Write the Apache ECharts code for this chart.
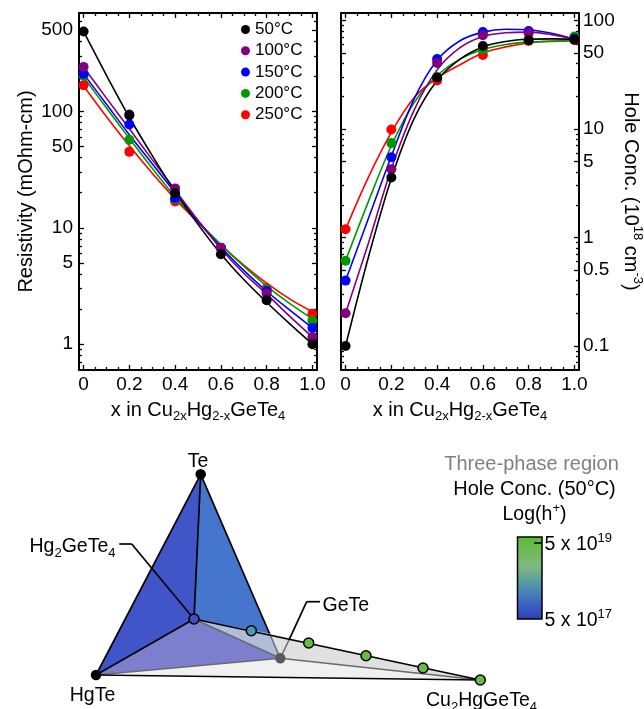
<!DOCTYPE html>
<html><head><meta charset="utf-8">
<style>html,body{margin:0;padding:0;background:#fff}#c{width:644px;height:709px}</style>
<script src="https://cdn.jsdelivr.net/npm/echarts@6/dist/echarts.min.js"></script>
</head><body><div id="c"></div>
<script>
// ---- measured compositions
const xPoints = [0, 0.2, 0.4, 0.6, 0.8, 1.0];
const xCurve = [0, 0.1, 0.2, 0.3, 0.4, 0.5, 0.6, 0.7, 0.8, 0.9, 1.0];
const temperatures = ['50°C', '100°C', '150°C', '200°C', '250°C'];
// ---- resistivity markers (mOhm-cm)
const rho50 = [486, 92.4, 19.8, 5.92, 2.39, 1.0];
const rho100 = [241, 94, 21.8, 6.75, 2.73, 1.15];
const rho150 = [210, 77, 18, 6.7, 2.86, 1.38];
const rho200 = [202, 57, 17.6, 6.7, 2.95, 1.6];
const rho250 = [168, 44.9, 16.8, 6.7, 3.03, 1.83];
// ---- resistivity fit curves
const rhoFit50 = [486, 204, 89, 41.7, 20.4, 10.7, 5.96, 3.59, 2.29, 1.5, 1.0];
const rhoFit100 = [241, 130, 70.8, 38.5, 21.1, 11.6, 6.6, 4.07, 2.69, 1.74, 1.15];
const rhoFit150 = [210, 115, 63, 35.5, 20, 11.35, 6.84, 4.3, 2.85, 1.97, 1.38];
const rhoFit200 = [197, 107, 58.6, 32.4, 18.4, 11.35, 7.16, 4.68, 3.16, 2.24, 1.65];
const rhoFit250 = [165, 90, 50.6, 29.4, 17.7, 11.1, 7.14, 4.78, 3.34, 2.45, 1.9];
// ---- hole concentration markers (10^18 cm^-3)
const hole50 = [0.1, 3.56, 29.8, 58, 65.8, 66.8];
const hole100 = [0.2, 4.25, 40.6, 73, 76, 66.8];
const hole150 = [0.4, 5.47, 44, 78, 80, 68];
const hole200 = [0.61, 7.4, 30, 54, 65.8, 71];
const hole250 = [1.19, 9.86, 28, 48, 64.6, 65.8];
// ---- hole concentration fit curves
const holeFit50 = [0.1, 0.66, 3.5, 12.5, 28, 44, 57, 64, 67, 67.5, 67];
const holeFit100 = [0.2, 0.89, 4.3, 15, 35, 56, 71, 77, 78, 74, 67];
const holeFit150 = [0.4, 1.5, 5.6, 19, 43, 65, 78, 83, 82, 76, 67];
const holeFit200 = [0.61, 2.15, 7.0, 17.5, 31, 44, 54, 60, 63, 64, 65];
const holeFit250 = [1.19, 3.6, 9.3, 19.5, 29.5, 39, 50, 57, 62, 64.5, 65];
// ---- tick values
const xMajor = [0, 0.2, 0.4, 0.6, 0.8, 1.0];
const xMinor = [0.05, 0.1, 0.15, 0.25, 0.3, 0.35, 0.45, 0.5, 0.55, 0.65, 0.7, 0.75, 0.85, 0.9, 0.95];
const rhoMajor = [1, 5, 10, 50, 100, 500];
const rhoMinor = [0.7, 0.8, 0.9, 2, 3, 4, 6, 7, 8, 9, 20, 30, 40, 60, 70, 80, 90, 200, 300, 400, 600];
const holeMajor = [0.1, 0.5, 1, 5, 10, 50, 100];
const holeMinor = [0.07, 0.08, 0.09, 0.2, 0.3, 0.4, 0.6, 0.7, 0.8, 0.9, 2, 3, 4, 6, 7, 8, 9, 20, 30, 40, 60, 70, 80, 90];
// ---- phase diagram vertices, in diagram units
const Te = [200.7, 474.3];
const HgTe = [96, 675];
const Hg2GeTe4 = [194, 619];
const GeTe = [280.3, 658.3];
const Cu2HgGeTe4 = [480.3, 680];
const edgeCross = [269.5, 633.5];
const leaderCross = [289.3, 639.3];
const hg2LeaderA = [119.3, 544];
const hg2LeaderB = [131.7, 544];
const geTeLeaderA = [320, 601.7];
const geTeLeaderB = [306.7, 601.7];
const tieLinePoints = [[251.3, 630.7], [308.7, 643], [366, 655.7], [423, 668]];
const barX = [517.5, 542];
const barY = [537, 619];
const barTickX = [534, 542];
const barTickY = 543;

const FONT = 'Liberation Sans';
const colors = ['#000000', '#800080', '#0000ff', '#009a00', '#ff0000'];
const rhoSets = [rho50, rho100, rho150, rho200, rho250];
const rhoFits = [rhoFit50, rhoFit100, rhoFit150, rhoFit200, rhoFit250];
const holeSets = [hole50, hole100, hole150, hole200, hole250];
const holeFits = [holeFit50, holeFit100, holeFit150, holeFit200, holeFit250];

const rich = {
  a: {fontFamily: FONT, fontSize: 20, lineHeight: 26, color: '#000'},
  as: {fontFamily: FONT, fontSize: 13, lineHeight: 13, verticalAlign: 'bottom', color: '#000'},
  au: {fontFamily: FONT, fontSize: 13, lineHeight: 13, verticalAlign: 'top', color: '#000'},
  n: {fontFamily: FONT, fontSize: 19.5, lineHeight: 26, color: '#000'},
  sub: {fontFamily: FONT, fontSize: 13, lineHeight: 13, verticalAlign: 'bottom', color: '#000'},
  sup: {fontFamily: FONT, fontSize: 13, lineHeight: 13, verticalAlign: 'top', color: '#000'},
  g: {fontFamily: FONT, fontSize: 20, lineHeight: 26, color: '#808080'},
  b: {fontFamily: FONT, fontSize: 20, lineHeight: 26, color: '#000'}
};
const xName = '{a|x in Cu}{as|2x}{a|Hg}{as|2-x}{a|GeTe}{as|4}';

const xAxes = [], yAxes = [];
function addAxes(grid, yMin, yMax, yMaj, yMin2, labelSide, yName, nameRot, nameGap, labelMargin) {
  const xBase = {gridIndex: grid, type: 'value', min: -0.02, max: 1.02, splitLine: {show: false}};
  const line = {show: true, onZero: false, lineStyle: {color: '#000', width: 2}};
  const noLine = {show: false, onZero: false};
  [['bottom', xMajor, 5, true], ['bottom', xMinor, 3, false], ['top', xMajor, 5, true], ['top', xMinor, 3, false]].forEach((a, i) => {
    xAxes.push(Object.assign({}, xBase, {
      position: a[0], axisLine: a[3] ? line : noLine,
      axisTick: {show: true, inside: true, length: a[2], customValues: a[1], lineStyle: {color: '#000', width: 1.3}},
      axisLabel: i === 0 ? {show: true, customValues: xMajor, margin: 5, fontFamily: FONT, fontSize: 19, color: '#000',
        formatter: v => v === 0 ? '0' : v.toFixed(1)} : {show: false},
      name: i === 0 ? xName : '', nameLocation: 'middle', nameGap: 27,
      nameTextStyle: {rich}
    }));
  });
  const yBase = {gridIndex: grid, type: 'log', logBase: 10, min: yMin, max: yMax, splitLine: {show: false}, minorTick: {show: false}};
  const other = labelSide === 'left' ? 'right' : 'left';
  [[labelSide, yMaj, 5, true], [labelSide, yMin2, 3, false], [other, yMaj, 5, true], [other, yMin2, 3, false]].forEach((a, i) => {
    yAxes.push(Object.assign({}, yBase, {
      position: a[0], axisLine: a[3] ? line : noLine,
      axisTick: {show: true, inside: true, length: a[2], customValues: a[1], lineStyle: {color: '#000', width: 1.3}},
      axisLabel: i === 0 ? {show: true, customValues: yMaj, margin: labelMargin, fontFamily: FONT, fontSize: 19, color: '#000',
        formatter: v => String(v)} : {show: false},
      name: i === 0 ? yName : '', nameLocation: 'middle', nameGap: nameGap, nameRotate: nameRot,
      nameTextStyle: {rich}
    }));
  });
}
addAxes(0, 0.6, 700, rhoMajor, rhoMinor, 'left', '{a|Resistivity (mOhm-cm)}', 90, 40, 6);
addAxes(1, 0.06, 117, holeMajor, holeMinor, 'right', '{a|Hole Conc. (10}{au|18}{a| cm}{au|-3}{a|)}', -90, 39, 4);
xAxes.push({gridIndex: 2, type: 'value', min: 0, max: 644, show: false});
yAxes.push({gridIndex: 2, type: 'value', min: 430, max: 709, inverse: true, show: false});

const series = [];
// fit lines then markers, hottest first so 50°C lies on top
function addPanel(axisIdx, fits, sets) {
  for (let i = 4; i >= 0; i--) {
    series.push({type: 'line', name: 'fit ' + temperatures[i] + axisIdx, xAxisIndex: axisIdx, yAxisIndex: axisIdx,
      data: xCurve.map((x, k) => [x, fits[i][k]]), smooth: 0.35, symbol: 'none', z: 2,
      lineStyle: {color: colors[i], width: 1.6}, itemStyle: {color: colors[i]}});
  }
  for (let i = 4; i >= 0; i--) {
    series.push({type: 'scatter', name: temperatures[i], xAxisIndex: axisIdx, yAxisIndex: axisIdx,
      data: xPoints.map((x, k) => [x, sets[i][k]]), symbol: 'circle', symbolSize: 10, z: 3,
      itemStyle: {color: colors[i], opacity: 1}});
  }
}
addPanel(0, rhoFits, rhoSets);
addPanel(4, holeFits, holeSets);

// phase diagram
const polygons = [
  [Te, HgTe, Hg2GeTe4], [Te, Hg2GeTe4, GeTe], [Hg2GeTe4, edgeCross, GeTe],
  [HgTe, Hg2GeTe4, GeTe], [edgeCross, Cu2HgGeTe4, GeTe], [HgTe, GeTe, Cu2HgGeTe4]
];
const polygonFills = ['#4055C8', '#4575CC', '#B0BDD8', '#7B7FCE', '#E0E0E0', '#F0F0F0'];
series.push({type: 'custom', xAxisIndex: 8, yAxisIndex: 8, z: 2, silent: true,
  data: polygons.map((p, i) => [i]),
  renderItem: (params, api) => ({type: 'polygon',
    shape: {points: polygons[params.dataIndex].map(p => api.coord(p))},
    style: {fill: polygonFills[params.dataIndex], stroke: 'none'}})
});
const greySegments = [[HgTe, GeTe], [Hg2GeTe4, GeTe], [GeTe, Cu2HgGeTe4], [edgeCross, GeTe], [leaderCross, GeTe]];
const blackSegments = [[Te, HgTe], [Te, Hg2GeTe4], [Te, edgeCross], [HgTe, Hg2GeTe4], [Hg2GeTe4, Cu2HgGeTe4],
  [HgTe, Cu2HgGeTe4], [hg2LeaderA, hg2LeaderB], [hg2LeaderB, Hg2GeTe4], [geTeLeaderA, geTeLeaderB], [geTeLeaderB, leaderCross]];
function segmentSeries(segs, color, w) {
  return {type: 'custom', xAxisIndex: 8, yAxisIndex: 8, z: 2, silent: true,
    data: segs.map((s, i) => [i]),
    renderItem: (params, api) => {
      const s = segs[params.dataIndex], a = api.coord(s[0]), b = api.coord(s[1]);
      return {type: 'line', shape: {x1: a[0], y1: a[1], x2: b[0], y2: b[1]}, style: {stroke: color, lineWidth: w}};
    }};
}
series.push(segmentSeries(greySegments, '#6a6a6a', 1.5));
series.push(segmentSeries(blackSegments, '#000', 1.7));
// colour bar
series.push({type: 'custom', xAxisIndex: 8, yAxisIndex: 8, z: 2, silent: true, data: [[0]],
  renderItem: (params, api) => {
    const a = api.coord([barX[0], barY[0]]), b = api.coord([barX[1], barY[1]]);
    const t1 = api.coord([barTickX[0], barTickY]), t2 = api.coord([barTickX[1], barTickY]);
    return {type: 'group', children: [
      {type: 'rect', shape: {x: a[0], y: a[1], width: b[0] - a[0], height: b[1] - a[1]},
       style: {stroke: '#000', lineWidth: 1.5, fill: new echarts.graphic.LinearGradient(0, 0, 0, 1, [
        {offset: 0, color: '#5CBB35'}, {offset: 0.35, color: '#80BA7C'}, {offset: 0.62, color: '#4A8FB0'},
        {offset: 0.85, color: '#3A5CC4'}, {offset: 1, color: '#2C3CB0'}])}},
      {type: 'line', shape: {x1: t1[0], y1: t1[1], x2: t2[0], y2: t2[1]}, style: {stroke: '#000', lineWidth: 1.5}}
    ]};
  }});
// vertices and samples
const dot = (p, fill, size, border) => ({value: p, symbolSize: size,
  itemStyle: {color: fill, opacity: 1, borderColor: border || fill, borderWidth: border ? 1.5 : 0}});
series.push({type: 'scatter', xAxisIndex: 8, yAxisIndex: 8, z: 4, silent: true, symbol: 'circle',
  data: [dot(Te, '#000', 10.5), dot(HgTe, '#000', 10.5), dot(GeTe, '#595959', 10.5), dot(Cu2HgGeTe4, '#66BB44', 10, '#000'),
    dot(Hg2GeTe4, '#3F4FC0', 10, '#000'), dot(tieLinePoints[0], '#4A9BBB', 10, '#000'),
    dot(tieLinePoints[1], '#66BB44', 10, '#000'), dot(tieLinePoints[2], '#66BB44', 10, '#000'), dot(tieLinePoints[3], '#66BB44', 10, '#000')]
});
// diagram text
const txt = (p, s, align) => ({value: p, label: {show: true, formatter: s, position: [0, 0], align: align || 'center', verticalAlign: 'middle', rich}});
series.push({type: 'scatter', xAxisIndex: 8, yAxisIndex: 8, z: 5, silent: true, symbolSize: 1, itemStyle: {color: 'transparent', opacity: 1},
  data: [
    txt([198.5, 462], '{n|Te}'),
    txt([93, 696], '{n|HgTe}'),
    txt([116, 547], '{n|Hg}{sub|2}{n|GeTe}{sub|4}', 'right'),
    txt([323, 606], '{n|GeTe}', 'left'),
    txt([482, 701], '{n|Cu}{sub|2}{n|HgGeTe}{sub|4}'),
    txt([532, 465], '{g|Three-phase region}'),
    txt([535, 490], '{b|Hole Conc. (50°C)}'),
    txt([535, 515], '{n|Log(h}{sup|+}{n|)}'),
    txt([545, 545], '{n|5 x 10}{sup|19}', 'left'),
    txt([545, 621], '{n|5 x 10}{sup|17}', 'left')
  ]});

const option = {
  animation: false,
  backgroundColor: '#fff',
  grid: [
    {left: 79, top: 13, width: 238, height: 357, outerBoundsMode: 'none'},
    {left: 341, top: 13, width: 238, height: 357, outerBoundsMode: 'none'},
    {left: 0, top: 430, width: 644, height: 279, outerBoundsMode: 'none'}
  ],
  legend: {
    data: temperatures, orient: 'vertical', left: 236, top: 14, itemWidth: 9, itemHeight: 9, itemGap: 0.3,
    icon: 'circle', textStyle: {fontFamily: FONT, fontSize: 17, lineHeight: 21, color: '#000'}
  },
  xAxis: xAxes, yAxis: yAxes, series
};
const chart = echarts.init(document.getElementById('c'), null, {renderer: 'canvas'});
chart.setOption(option);
</script></body></html>
